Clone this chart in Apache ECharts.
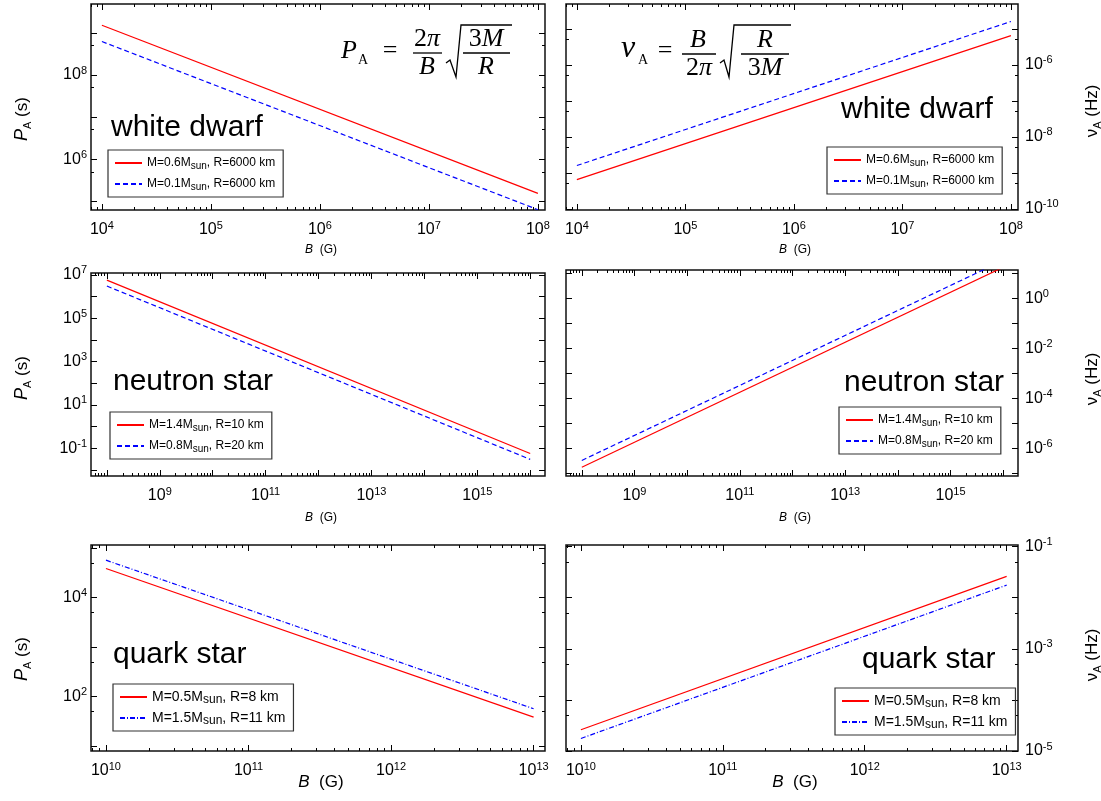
<!DOCTYPE html>
<html lang="en">
<head>
<meta charset="UTF-8">
<title>Alfven period and frequency</title>
<style>
html,body{margin:0;padding:0;background:#fff;}
#chart{width:1101px;height:801px;}
</style>
</head>
<body>
<div id="chart"></div>
<script src="https://cdn.jsdelivr.net/npm/echarts@6/dist/echarts.min.js"></script>
<script>
// B (G) at the two ends of every curve (straight lines in log-log)
var wdB = [1e4, 1e8];
var nsB = [1e8, 1e16];
var qsB = [1e10, 1e13];

// white dwarf
var wdP1 = [1.53e9, 1.53e5];
var wdP2 = [6.27e8, 6.27e4];
var wdNu1 = [6.5e-10, 6.5e-6];
var wdNu2 = [1.6e-9, 1.6e-5];
// neutron star
var nsP1 = [5.74e6, 5.74e-2];
var nsP2 = [3.07e6, 3.07e-2];
var nsNu1 = [1.74e-7, 17.4];
var nsNu2 = [3.26e-7, 32.6];
// quark star
var qsP1 = [3.84e4, 38.4];
var qsP2 = [5.67e4, 56.7];
var qsNu1 = [2.61e-5, 2.61e-2];
var qsNu2 = [1.76e-5, 1.76e-2];

var wdNames = ['M=0.6Msun, R=6000 km', 'M=0.1Msun, R=6000 km'];
var nsNames = ['M=1.4Msun, R=10 km', 'M=0.8Msun, R=20 km'];
var qsNames = ['M=0.5Msun, R=8 km', 'M=1.5Msun, R=11 km'];

var SANS = 'Liberation Sans, Arial, sans-serif';
var SERIF = 'Liberation Serif, Times New Roman, serif';

// layout of the six panels (log10 extents)
var panels = [
  {rect: [91, 4, 454, 206], x: [3.9, 8.065], y: [4.79, 9.69], side: 'left',
   xLab: [4, 5, 6, 7, 8], yLab: [6, 8], y5: true,
   B: wdB, v: [wdP1, wdP2], names: wdNames, dash: [5, 3], leg: [108, 150], legFs: 12},
  {rect: [566, 4, 452, 206], x: [3.9, 8.065], y: [-10.03, -4.31], side: 'right',
   xLab: [4, 5, 6, 7, 8], yLab: [-10, -8, -6], y5: true,
   B: wdB, v: [wdNu1, wdNu2], names: wdNames, dash: [5, 3], leg: [827, 147], legFs: 12},
  {rect: [91, 273, 454, 203], x: [7.7, 16.28], y: [-2.28, 7.09], side: 'left',
   xLab: [9, 11, 13, 15], yLab: [-1, 1, 3, 5, 7], y5: false,
   B: nsB, v: [nsP1, nsP2], names: nsNames, dash: [5, 3], leg: [110, 412], legFs: 12},
  {rect: [566, 270, 452, 206], x: [7.7, 16.28], y: [-7.11, 1.13], side: 'right',
   xLab: [9, 11, 13, 15], yLab: [-6, -4, -2, 0], y5: false,
   B: nsB, v: [nsNu1, nsNu2], names: nsNames, dash: [5, 3], leg: [839, 407], legFs: 12},
  {rect: [91, 545, 454, 206], x: [9.895, 13.08], y: [0.9, 5.06], side: 'left',
   xLab: [10, 11, 12, 13], yLab: [2, 4], y5: true,
   B: qsB, v: [qsP1, qsP2], names: qsNames, dash: [5, 2, 1, 2], leg: [113, 684], legFs: 14},
  {rect: [566, 545, 452, 206], x: [9.895, 13.08], y: [-5.0, -0.97], side: 'right',
   xLab: [10, 11, 12, 13], yLab: [-5, -3, -1], y5: true,
   B: qsB, v: [qsNu1, qsNu2], names: qsNames, dash: [5, 2, 1, 2], leg: [835, 688], legFs: 14}
];

function ints(lo, hi) {
  var r = [];
  for (var n = Math.ceil(lo - 1e-9); n <= hi + 1e-9; n++) r.push(n);
  return r;
}
function subs(lo, hi, ks) {
  var r = [];
  for (var n = Math.floor(lo) - 1; n <= Math.ceil(hi); n++) {
    ks.forEach(function (k) {
      var v = n + Math.log10(k);
      if (v > lo && v < hi) r.push(v);
    });
  }
  return r;
}
function powLabel(v) {
  return '{b|10}{s|' + Math.round(v) + '}';
}
var labRich = {
  b: {fontSize: 16, lineHeight: 20, fontFamily: SANS, color: '#000'},
  s: {fontSize: 11, lineHeight: 11, verticalAlign: 'top', fontFamily: SANS, color: '#000'}
};

function axisDef(gi, pos, ext, ticks, len, labels) {
  return {
    type: 'value', gridIndex: gi, position: pos, min: ext[0], max: ext[1],
    axisLine: {show: false, onZero: false},
    splitLine: {show: false},
    axisTick: {show: true, inside: true, length: len, customValues: ticks,
      lineStyle: {color: '#000', width: 1}},
    axisLabel: labels ? {show: true, customValues: labels, formatter: powLabel,
      rich: labRich, margin: (pos === 'bottom' ? 10 : (pos === 'left' ? 4 : 7))} : {show: false}
  };
}

var grid = [], xAxis = [], yAxis = [], series = [], legend = [];

panels.forEach(function (p, gi) {
  grid.push({left: p.rect[0], top: p.rect[1], width: p.rect[2], height: p.rect[3],
    show: true, borderColor: '#111', borderWidth: 1.5, backgroundColor: 'transparent'});

  var xi = xAxis.length, yi = yAxis.length;
  var xMaj = ints(p.x[0], p.x[1]);
  var xMin = subs(p.x[0], p.x[1], [2, 3, 4, 5, 6, 7, 8, 9]);
  var yMaj = ints(p.y[0], p.y[1]);
  var yMin = p.y5 ? subs(p.y[0], p.y[1], [5]) : [];

  xAxis.push(axisDef(gi, 'bottom', p.x, xMaj, 6, p.xLab));
  xAxis.push(axisDef(gi, 'bottom', p.x, xMin, 3, null));
  xAxis.push(axisDef(gi, 'top', p.x, xMaj, 6, null));
  xAxis.push(axisDef(gi, 'top', p.x, xMin, 3, null));

  var other = p.side === 'left' ? 'right' : 'left';
  yAxis.push(axisDef(gi, p.side, p.y, yMaj, 6, p.yLab));
  yAxis.push(axisDef(gi, p.side, p.y, yMin, 3, null));
  yAxis.push(axisDef(gi, other, p.y, yMaj, 6, null));
  yAxis.push(axisDef(gi, other, p.y, yMin, 3, null));

  var styles = [
    {color: '#ff0000', width: 1.2, type: 'solid'},
    {color: '#0000ff', width: 1.2, type: p.dash}
  ];
  p.v.forEach(function (vals, k) {
    series.push({
      type: 'line', name: p.names[k], xAxisIndex: xi, yAxisIndex: yi,
      symbol: 'none', showSymbol: false, clip: true, silent: true,
      lineStyle: styles[k], itemStyle: {color: styles[k].color},
      data: p.B.map(function (b, i) { return [Math.log10(b), Math.log10(vals[i])]; })
    });
  });

  legend.push({
    left: p.leg[0], top: p.leg[1], orient: 'vertical', data: p.names,
    itemWidth: 27, itemHeight: 10, itemGap: p.legFs > 12 ? 3 : 5,
    padding: p.legFs > 12 ? [4, 8, 4, 6] : [5, 8, 5, 6],
    borderColor: '#333', borderWidth: 1.2, selectedMode: false,
    itemStyle: {opacity: 0, color: 'rgba(0,0,0,0)', borderWidth: 0},
    textStyle: {fontFamily: SANS, fontSize: p.legFs, color: '#000', lineHeight: p.legFs + 4,
      rich: {s: {fontFamily: SANS, fontSize: p.legFs - 2, verticalAlign: 'bottom', lineHeight: 9, color: '#000'}}},
    formatter: function (n) { return n.replace('Msun', 'M{s|sun}'); }
  });
});

// text decorations
var graphic = [];
function txt(x, y, text, size, extra) {
  var st = {text: text, x: 0, y: 0, fill: '#000', fontFamily: SANS, fontSize: size,
    align: 'center', verticalAlign: 'middle'};
  for (var k in (extra || {})) st[k] = extra[k];
  graphic.push({type: 'text', x: x, y: y, rotation: st.rot || 0, style: st, silent: true});
}
function seg(pts) {
  graphic.push({type: 'polyline', shape: {points: pts}, silent: true,
    style: {stroke: '#000', lineWidth: 1.3, fill: null}});
}

// star type labels
txt(111, 128, 'white dwarf', 30, {align: 'left'});
txt(841, 110, 'white dwarf', 30, {align: 'left'});
txt(113, 382, 'neutron star', 30, {align: 'left'});
txt(844, 383, 'neutron star', 30, {align: 'left'});
txt(113, 655, 'quark star', 30, {align: 'left'});
txt(862, 660, 'quark star', 30, {align: 'left'});

// axis titles
var nameRich = {
  i: {fontFamily: SANS, fontStyle: 'italic', fontSize: 18, color: '#000', lineHeight: 22},
  n: {fontFamily: SANS, fontSize: 17, color: '#000', lineHeight: 22},
  s: {fontFamily: SANS, fontSize: 11, color: '#000', verticalAlign: 'bottom', lineHeight: 10}
};
[119, 378, 659].forEach(function (y) {
  txt(22, y, '{i|P}{s|A}{n| (s)}', 17, {rich: nameRich, rot: Math.PI / 2});
});
[111, 379, 655].forEach(function (y) {
  txt(1092, y, '{n|ν}{s|A}{n| (Hz)}', 17, {rich: nameRich, rot: Math.PI / 2});
});
var bRich = function (fs) {
  return {i: {fontFamily: SANS, fontStyle: 'italic', fontSize: fs, color: '#000'},
          n: {fontFamily: SANS, fontSize: fs, color: '#000'}};
};
[[321, 250, 12], [795, 250, 12], [321, 518, 12], [795, 518, 12], [321, 782, 17], [795, 782, 17]].forEach(function (a) {
  txt(a[0], a[1], '{i|B}{n|  (G)}', a[2], {rich: bRich(a[2])});
});

// formulas
var fRich = {
  i: {fontFamily: SERIF, fontStyle: 'italic', fontSize: 26, color: '#000'},
  n: {fontFamily: SERIF, fontSize: 26, color: '#000'}
};
// P_A = 2pi/B sqrt(3M/R)
txt(349, 51, '{i|P}', 26, {rich: fRich});
txt(363, 60, 'A', 14, {fontFamily: SERIF});
txt(390, 51, '{n|=}', 26, {rich: fRich});
txt(427, 39, '{n|2}{i|π}', 26, {rich: fRich});
seg([[413, 53], [442, 53]]);
txt(427, 67, '{i|B}', 26, {rich: fRich});
seg([[446, 63], [450, 60], [456, 77], [461, 25], [512, 25]]);
txt(486, 39, '{n|3}{i|M}', 26, {rich: fRich});
seg([[463, 53], [510, 53]]);
txt(486, 67, '{i|R}', 26, {rich: fRich});
// nu_A = B/2pi sqrt(R/3M)
txt(628, 49, '{i|ν}', 30, {rich: {i: {fontFamily: SERIF, fontStyle: 'italic', fontSize: 32, color: '#000'}}});
txt(643, 60, 'A', 14, {fontFamily: SERIF});
txt(665, 51, '{n|=}', 26, {rich: fRich});
txt(698, 40, '{i|B}', 26, {rich: fRich});
seg([[682, 54], [716, 54]]);
txt(699, 68, '{n|2}{i|π}', 26, {rich: fRich});
seg([[720, 63], [724, 60], [729, 77], [734, 25], [791, 25]]);
txt(765, 40, '{i|R}', 26, {rich: fRich});
seg([[741, 54], [789, 54]]);
txt(765, 68, '{n|3}{i|M}', 26, {rich: fRich});

var chart = echarts.init(document.getElementById('chart'), null, {renderer: 'canvas'});
chart.setOption({
  animation: false,
  backgroundColor: '#fff',
  grid: grid,
  xAxis: xAxis,
  yAxis: yAxis,
  legend: legend,
  series: series,
  graphic: graphic
});
</script>
</body>
</html>
